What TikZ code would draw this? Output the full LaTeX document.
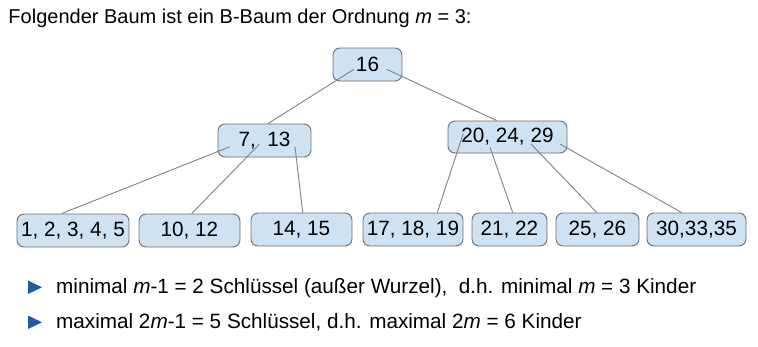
\documentclass[tikz,border=0pt]{standalone}
\usepackage{fontspec}
\setmainfont{Liberation Sans}
\usetikzlibrary{calc}
\definecolor{keyfill}{HTML}{CFE2F3}
\definecolor{keyborder}{HTML}{6E6E6E}
\definecolor{edgegray}{HTML}{808080}
\definecolor{bulletblue}{HTML}{1F5AA6}
\begin{document}
\begin{tikzpicture}[x=1pt,y=-1pt,
  keybox/.style={draw=keyborder,fill=keyfill,line width=0.9pt,rounded corners=7pt,
    minimum height=33pt,inner sep=0pt,font=\fontsize{20.7}{24}\selectfont},
  link/.style={draw=edgegray,line width=0.9pt},
  plain/.style={anchor=base west,inner sep=0pt},
  bullet/.style={fill=bulletblue,draw=none}]
\useasboundingbox (0,0) rectangle (758,346);

% heading
\node[plain,font=\fontsize{20}{24}\selectfont] (title) at (8.3,23.3)
  {Folgender Baum ist ein B-Baum der Ordnung \textit{m} = 3:};

% root and inner nodes
\node[keybox,minimum width=69pt] (root) at (367.5,64.5) {16};
\node[keybox,minimum width=93pt] (a) at (264.5,140.5) {7,\ \ 13};
\node[keybox,minimum width=119pt,minimum height=32pt] (b) at (507.5,137) {20, 24, 29};

% leaves
\node[keybox,minimum width=112pt] (l1) at (73,230.5) {1, 2, 3, 4, 5};
\node[keybox,minimum width=101pt] (l2) at (189.5,230.5) {10, 12};
\node[keybox,minimum width=101pt] (l3) at (301.5,229.5) {14, 15};
\node[keybox,minimum width=100pt] (l4) at (413,229.5) {17, 18, 19};
\node[keybox,minimum width=75pt] (l5) at (509.5,229.5) {21, 22};
\node[keybox,minimum width=83pt] (l6) at (597.5,229.5) {25, 26};
\node[keybox,minimum width=99pt] (l7) at (696.5,229.5) {30,33,35};

% points inside the parents where the links leave
\coordinate (root-l) at ($(root)+(-13.5,4.8)$);
\coordinate (root-r) at ($(root)+(19.2,4.8)$);
\coordinate (a-1) at ($(a)+(-34.5,6.2)$);
\coordinate (a-2) at ($(a)+(-5.2,3.8)$);
\coordinate (a-3) at ($(a)+(30.5,6.2)$);
\coordinate (b-1) at ($(b)+(-44.2,-3.7)$);
\coordinate (b-2) at ($(b)+(-17.5,10.3)$);
\coordinate (b-3) at ($(b)+(23.5,7)$);
\coordinate (b-4) at ($(b)+(52.5,7)$);

% links
\draw[link] (root-l) -- ($(a.north)+(3.5,0)$);
\draw[link] (root-r) -- ($(b.north)+(-10.8,0)$);
\draw[link] (a-1) -- ($(l1.north)+(-11.3,0)$);
\draw[link] (a-2) -- ($(l2.north)+(2.2,0)$);
\draw[link] (a-3) -- ($(l3.north)+(1.2,0)$);
\draw[link] (b-1) -- ($(l4.north)+(24.3,0)$);
\draw[link] (b-2) -- ($(l5.north)+(3.2,0)$);
\draw[link] (b-3) -- ($(l6.north)+(-0.8,0)$);
\draw[link] (b-4) -- ($(l7.north)+(-14.8,0)$);

% rules
\fill[bullet] (28,280.5) -- (42,287.3) -- (28,294) -- cycle;
\fill[bullet] (28,315.5) -- (42,322.3) -- (28,329) -- cycle;
\node[plain,font=\fontsize{20.7}{24}\selectfont] (rule1) at (56,293.3)
  {minimal \textit{m}-1 = 2 Schlüssel (außer Wurzel),\ \ d.h. minimal \textit{m} = 3 Kinder};
\node[plain,font=\fontsize{20.7}{24}\selectfont] (rule2) at (56,328.3)
  {maximal 2\textit{m}-1 = 5 Schlüssel, d.h. maximal 2\textit{m} = 6 Kinder};
\end{tikzpicture}
\end{document}
